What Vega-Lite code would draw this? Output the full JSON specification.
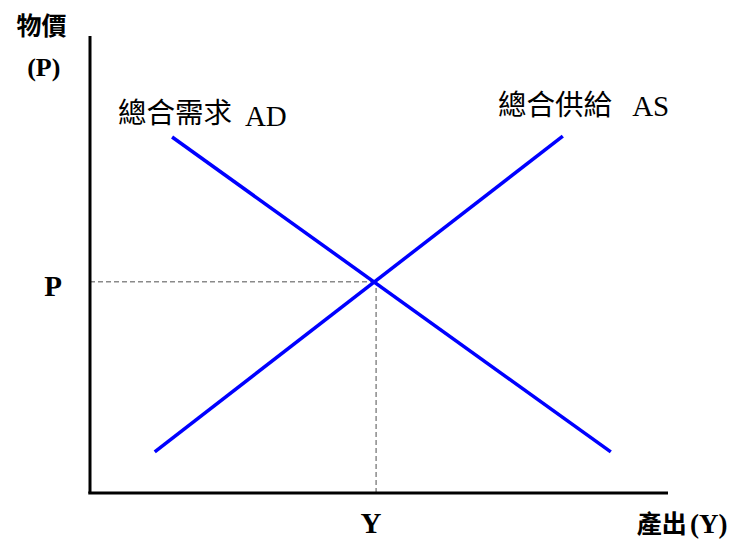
{
  "$schema": "https://vega.github.io/schema/vega-lite/v6.json",
  "width": 578,
  "height": 457,
  "autosize": "none",
  "padding": {"left": 90, "top": 36, "right": 65, "bottom": 46},
  "background": "white",
  "config": {"view": {"stroke": null}},
  "datasets": {
    "segments": [
      {"kind": "guide", "name": "P*", "x": 0, "y": 46.2, "x2": 49.5, "y2": 46.2},
      {"kind": "guide", "name": "Y*", "x": 49.5, "y": 0, "x2": 49.5, "y2": 46.2},
      {"kind": "curve", "name": "AD", "x": 14.2, "y": 77.9, "x2": 90.1, "y2": 9.0},
      {"kind": "curve", "name": "AS", "x": 11.2, "y": 9.0, "x2": 81.8, "y2": 78.1},
      {"kind": "axis", "name": "P", "x": 0, "y": 0, "x2": 0, "y2": 100},
      {"kind": "axis", "name": "Y", "x": -0.3, "y": 0, "x2": 100, "y2": 0}
    ],
    "labels": [
      {"label": "總合需求", "x": 4.84, "y": 82.9},
      {"label": "總合供給", "x": 70.6, "y": 84.7},
      {"label": "AD", "x": 26.8, "y": 80.4},
      {"label": "AS", "x": 93.8, "y": 82.6},
      {"label": "物價", "x": -8.4, "y": 102.0},
      {"label": "產出", "x": 98.9, "y": -7.0},
      {"label": "(P)", "x": -8.0, "y": 91.2},
      {"label": "P", "x": -6.4, "y": 43.1},
      {"label": "Y", "x": 48.6, "y": -8.8},
      {"label": "(Y)", "x": 103.8, "y": -8.8}
    ]
  },
  "encoding": {
    "x": {"field": "x", "type": "quantitative", "scale": {"domain": [0, 100], "nice": false, "zero": false}, "axis": null},
    "y": {"field": "y", "type": "quantitative", "scale": {"domain": [0, 100], "nice": false, "zero": false}, "axis": null}
  },
  "layer": [
    {
      "data": {"name": "segments"},
      "transform": [{"filter": "datum.kind === 'guide'"}],
      "mark": {"type": "rule", "color": "#8a8a8a", "strokeWidth": 1.5, "strokeDash": [5, 3]},
      "encoding": {"x2": {"field": "x2"}, "y2": {"field": "y2"}}
    },
    {
      "data": {"name": "segments"},
      "transform": [{"filter": "datum.kind === 'curve'"}],
      "mark": {"type": "rule", "color": "#0000ff", "strokeWidth": 3.5},
      "encoding": {"x2": {"field": "x2"}, "y2": {"field": "y2"}}
    },
    {
      "data": {"name": "segments"},
      "transform": [{"filter": "datum.kind === 'axis'"}],
      "mark": {"type": "rule", "color": "#000000", "strokeWidth": 3},
      "encoding": {"x2": {"field": "x2"}, "y2": {"field": "y2"}}
    },
    {
      "data": {"name": "labels"},
      "transform": [{"filter": {"field": "label", "oneOf": ["總合需求", "總合供給"]}}],
      "mark": {"type": "text", "font": "Noto Sans CJK TC", "fontSize": 28.5, "align": "left", "baseline": "middle", "color": "#000000"},
      "encoding": {"text": {"field": "label"}}
    },
    {
      "data": {"name": "labels"},
      "transform": [{"filter": {"field": "label", "oneOf": ["AD", "AS"]}}],
      "mark": {"type": "text", "font": "Liberation Serif", "fontSize": 29, "align": "left", "baseline": "alphabetic", "color": "#000000"},
      "encoding": {"text": {"field": "label"}}
    },
    {
      "data": {"name": "labels"},
      "transform": [{"filter": {"field": "label", "oneOf": ["物價", "產出"]}}],
      "mark": {"type": "text", "font": "Noto Sans CJK TC", "fontWeight": "bold", "fontSize": 25, "align": "center", "baseline": "middle", "color": "#000000"},
      "encoding": {"text": {"field": "label"}}
    },
    {
      "data": {"name": "labels"},
      "transform": [{"filter": {"field": "label", "oneOf": ["(P)"]}}],
      "mark": {"type": "text", "font": "Liberation Serif", "fontWeight": "bold", "fontSize": 26, "align": "center", "baseline": "alphabetic", "color": "#000000"},
      "encoding": {"text": {"field": "label"}}
    },
    {
      "data": {"name": "labels"},
      "transform": [{"filter": {"field": "label", "oneOf": ["P", "Y"]}}],
      "mark": {"type": "text", "font": "Liberation Serif", "fontWeight": "bold", "fontSize": 29, "align": "center", "baseline": "alphabetic", "color": "#000000"},
      "encoding": {"text": {"field": "label"}}
    },
    {
      "data": {"name": "labels"},
      "transform": [{"filter": {"field": "label", "oneOf": ["(Y)"]}}],
      "mark": {"type": "text", "font": "Liberation Serif", "fontWeight": "bold", "fontSize": 27, "align": "left", "baseline": "alphabetic", "color": "#000000"},
      "encoding": {"text": {"field": "label"}}
    }
  ]
}
